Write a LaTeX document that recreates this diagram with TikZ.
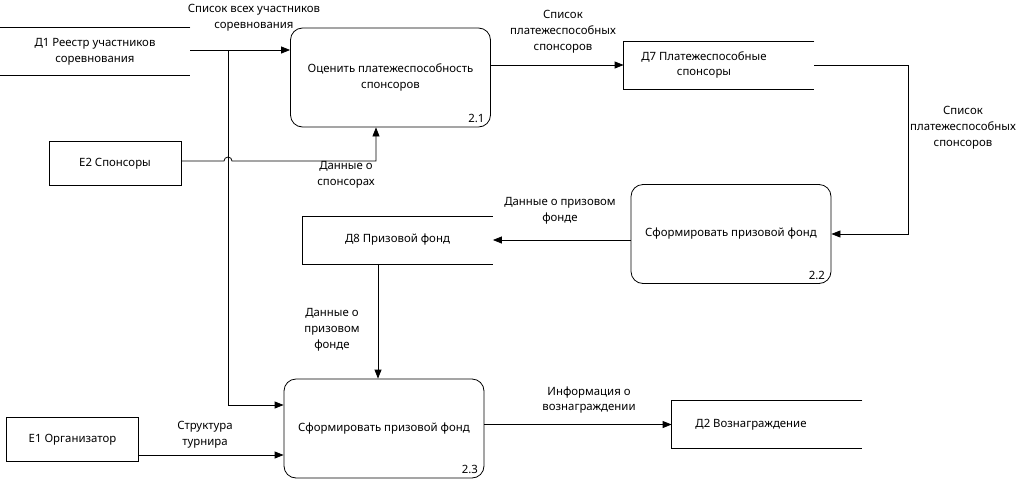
\documentclass[tikz,border=0pt]{standalone}
\usepackage{fontspec}
\setmainfont{Noto Sans}
\usetikzlibrary{arrows.meta}

\begin{document}
\begin{tikzpicture}[x=1pt, y=-1pt, line width=0.8pt, >={Triangle[length=9pt,width=7pt]},
  font=\fontsize{11.4}{15.8}\selectfont,
  proc/.style = {draw, rounded corners=12pt, minimum width=200pt, minimum height=99pt, align=center},
  ext/.style = {draw, minimum width=132pt, minimum height=44pt},
  store/.style = {minimum width=190pt, minimum height=47pt, align=center},
  lbl/.style = {align=center, inner sep=0pt},
  num/.style = {anchor=south east, inner sep=0pt}]
\useasboundingbox (0,0) rectangle (1034,480);

\node[store] (d1) at (95,51.5) {Д1 Реестр участников\\соревнования};
\node[proc] (p21) at (390.5,77.5) {Оценить платежеспособность\\спонсоров};
\node[ext] (e2) at (115,163.5) {Е2 Спонсоры};
\node[store, label={[align=center, xshift=-15pt]center:Д7 Платежеспособные\\спонсоры}] (d7) at (719,65) {};
\node[proc] (p22) at (731,234) {Сформировать призовой фонд};
\node[store] (d8) at (397.5,240) {Д8 Призовой фонд};
\node[proc] (p23) at (384,428.5) {Сформировать призовой фонд};
\node[ext] (e1) at (72.5,439.5) {Е1 Организатор};
\node[store, label={[xshift=-16pt]center:Д2 Вознаграждение}] (d2) at (767,424.5) {};

% open stores
\foreach \s in {d1,d7,d8,d2}
  \draw (\s.north east) -- (\s.north west) -- (\s.south west) -- (\s.south east);

% process numbers
\node[num] at ([xshift=-6pt,yshift=4pt]p21.south east) {2.1};
\node[num] at ([xshift=-6pt,yshift=4pt]p22.south east) {2.2};
\node[num] at ([xshift=-6pt,yshift=4pt]p23.south east) {2.3};

% flows
\coordinate (br) at (228,50);
\draw[->] (d1.east |- br) -- (br -| p21.west);
\draw[->] (br) |- ([yshift=23.5pt]p23.west);
\draw[->] (e2.east |- 0,161) -- (224,161) arc (180:360:4) -- (376,161) -- (376,0 |- p21.south);
\draw[->] (p21.east |- d7.west) -- (d7.west);
\draw[->] (d7.east) -- ++(94,0) |- (p22.east);
\draw[->] (p22.west |- d8.east) -- (d8.east);
\draw[->] (378,0 |- d8.south) -- (378,0 |- p23.north);
\draw[->] ([yshift=-15.5pt]e1.east) -- ([yshift=-15.5pt]e1.east -| p23.west);
\draw[->] (p23.east |- d2.west) -- (d2.west);

% flow labels
\node[lbl] (l1) at (254,18) {Список всех участников\\соревнования};
\node[lbl] (l2) at (346,175) {Данные о\\спонсорах};
\node[lbl] (l3) at (563,32) {Список\\платежеспособных\\спонсоров};
\node[lbl] (l4) at (963,128) {Список\\платежеспособных\\спонсоров};
\node[lbl] (l5) at (560,211) {Данные о призовом\\фонде};
\node[lbl] (l6) at (332,330) {Данные о\\призовом\\фонде};
\node[lbl] (l7) at (205,435) {Структура\\турнира};
\node[lbl] (l8) at (589,400) {Информация о\\вознаграждении};
\end{tikzpicture}
\end{document}
